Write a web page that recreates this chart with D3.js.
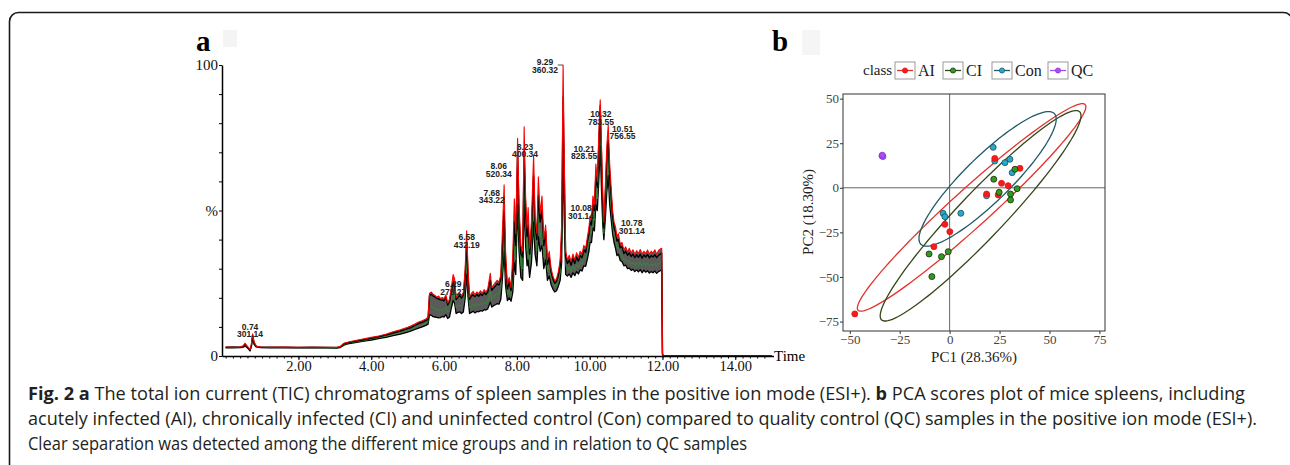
<!DOCTYPE html>
<html>
<head>
<meta charset="utf-8">
<script src="https://cdn.jsdelivr.net/npm/d3@7"></script>
<style>
  body { margin: 0; background: #fff; }
</style>
</head>
<body>
<script>
// ---- panel a : TIC chromatograms (retention time in min, intensity in %) ----
var rtMin = [
  0.00,0.20,0.40,0.48,0.53,0.58,0.63,0.67,0.71,0.74,0.78,0.84,0.95,1.20,1.60,2.00,2.40,2.80,3.05,3.15,3.25,3.40,3.60,3.80,4.00,4.20,4.40,4.60,4.80,5.00,5.10,5.20,5.30,5.40,5.50,5.56,
  5.60,5.65,5.70,5.75,5.80,5.85,5.90,5.95,6.00,6.05,6.10,6.15,6.20,6.25,6.29,6.33,6.38,6.43,6.48,6.53,6.58,6.62,6.66,6.70,6.75,6.80,6.85,6.90,6.95,7.00,7.05,7.10,7.15,7.20,7.27,7.31,7.36,7.41,7.46,7.51,7.56,
  7.60,7.65,7.69,7.74,7.79,7.84,7.89,7.93,7.97,8.02,8.06,8.11,8.16,8.20,8.24,8.28,8.31,8.35,8.40,8.46,8.50,8.55,8.59,8.64,8.69,8.74,8.79,8.84,8.89,8.94,8.99,9.04,9.09,9.14,9.19,9.23,9.27,9.30,9.34,
  9.39,9.44,9.49,9.54,9.59,9.64,9.69,9.74,9.79,9.84,9.89,9.94,9.98,10.01,
  10.05,10.09,10.13,10.17,10.21,10.25,10.29,10.33,10.36,10.39,10.43,10.47,10.51,10.55,10.59,10.63,10.67,10.71,10.75,10.79,
  10.84,10.89,10.94,10.99,11.04,11.09,11.14,11.19,11.24,11.29,11.34,11.39,11.44,11.49,11.54,11.59,11.64,11.69,11.74,11.79,11.84,11.89,11.94,11.98,12.00,12.02,15.00
];
var ticRed = [
  3.1,3.0,3.1,3.5,4.4,3.6,2.9,2.2,4.2,7.6,4.8,3.4,3.1,3.0,3.1,3.0,3.0,3.0,2.9,3.3,4.4,4.9,5.4,5.9,6.4,6.9,7.5,8.3,9.0,9.9,10.4,11.0,11.7,12.1,12.7,13.3,
  21.5,22.0,21.2,20.8,20.2,20.6,19.8,20.1,19.7,21.0,18.2,19.5,23.5,28.0,26.5,20.0,21.0,21.7,20.6,21.8,30.0,43.0,30.0,20.2,21.5,22.2,21.0,22.0,21.4,22.4,21.5,22.8,22.0,23.0,28.4,23.5,24.4,25.2,26.0,25.4,28.0,
  42.0,58.8,36.0,24.5,27.0,23.5,35.0,54.0,42.0,74.8,52.0,38.0,36.0,78.8,55.0,44.0,51.0,37.0,46.0,69.0,48.0,42.0,61.6,49.0,55.0,40.0,45.0,33.0,36.0,30.0,27.5,25.8,26.5,29.0,33.0,45.0,100.0,70.0,36.0,
  33.0,34.6,32.4,35.0,33.0,35.5,33.8,36.0,35.0,38.0,37.0,41.0,44.0,48.0,
  47.0,55.0,52.0,66.0,60.0,76.0,88.0,70.0,56.0,46.0,58.0,72.0,79.4,66.0,58.0,50.0,46.0,44.4,41.0,42.0,
  38.5,39.0,36.4,37.5,35.8,37.0,35.4,36.5,35.0,36.2,35.2,36.6,35.0,36.0,35.2,36.4,35.0,36.0,35.3,36.5,35.0,36.2,36.8,37.0,1.0,0,0
];
var ticBlack = [
  3.0,3.1,3.0,3.3,4.0,3.4,2.6,1.9,3.9,7.2,4.6,3.3,3.0,3.0,3.0,2.9,3.0,2.9,2.9,3.1,4.2,4.7,5.2,5.6,6.1,6.6,7.2,7.9,8.6,9.4,9.8,10.5,11.1,11.6,12.2,12.6,
  20.8,21.2,20.6,20.3,19.8,19.6,19.3,19.2,19.0,20.2,17.6,18.6,22.4,25.4,24.6,19.4,20.2,20.8,19.9,20.8,27.5,39.0,27.0,19.5,20.6,21.0,20.4,21.2,20.5,21.3,20.8,21.8,21.1,22.0,26.0,22.6,23.4,24.0,24.8,24.4,26.5,
  36.0,50.0,32.0,23.0,25.5,22.5,30.0,46.0,38.0,70.0,48.0,35.0,34.0,70.0,50.0,41.0,45.0,35.0,42.0,62.0,45.0,40.0,55.0,46.0,50.0,38.0,43.0,31.5,34.0,28.8,26.5,25.0,25.6,27.8,31.0,40.0,89.0,64.0,34.0,
  31.8,33.0,31.2,33.6,31.8,34.0,32.6,34.5,33.8,36.5,35.6,39.5,42.0,46.0,
  45.0,52.0,50.0,62.0,58.0,72.0,86.0,66.0,52.0,44.0,55.0,68.0,74.0,62.0,55.0,48.0,44.0,42.5,39.5,40.0,
  37.2,37.6,35.2,36.0,34.6,35.4,34.2,35.0,33.8,34.8,33.9,35.0,33.6,34.7,34.0,34.9,33.7,34.5,34.0,34.8,33.8,34.6,35.0,35.4,0.8,0,0
];
var ticGreen = [
  2.9,2.9,3.0,3.1,3.6,3.2,2.5,2.0,3.6,6.6,4.3,3.2,3.0,2.9,2.9,2.9,2.9,2.8,2.8,3.0,3.9,4.5,4.9,5.3,5.8,6.3,6.8,7.4,8.0,8.8,9.1,9.8,10.3,10.7,11.2,11.6,
  17.0,17.3,16.6,16.2,16.0,15.7,15.6,15.9,15.8,16.8,15.0,15.6,19.5,22.0,21.0,16.5,17.2,17.6,16.9,17.8,24.0,33.0,23.0,16.5,17.3,17.8,17.0,17.9,17.4,18.0,17.7,18.4,18.0,18.9,22.0,19.6,20.3,20.8,21.4,21.0,23.0,
  30.0,42.0,28.0,21.0,22.8,20.5,26.0,38.0,33.0,60.0,42.0,31.0,30.0,62.0,44.0,36.0,39.0,31.0,37.0,54.0,40.0,36.0,48.0,41.0,44.0,34.0,38.0,29.0,31.0,27.0,25.0,23.6,24.0,26.0,28.5,36.0,80.0,56.0,31.0,
  29.5,30.6,29.0,31.0,29.6,31.4,30.4,32.0,31.5,33.8,33.2,36.5,39.0,42.5,
  42.0,48.0,46.5,57.0,54.0,66.0,80.0,60.0,48.0,42.0,51.0,62.0,68.0,57.0,51.0,45.0,41.5,40.0,37.0,37.5,
  35.0,34.8,33.0,33.4,32.2,32.6,31.6,32.2,31.2,32.0,31.3,32.3,31.0,32.0,31.2,32.0,31.0,31.6,31.2,31.8,31.0,31.7,32.0,32.4,0.6,0,0
];
var ticDark = [
  2.8,2.8,2.9,3.0,3.4,3.0,2.4,1.8,3.4,6.2,4.0,3.1,2.9,2.8,2.8,2.8,2.8,2.8,2.7,2.9,3.7,4.3,4.7,5.1,5.5,6.0,6.4,7.0,7.5,8.2,8.6,9.1,9.6,10.0,10.5,10.9,
  14.2,14.0,13.5,13.4,13.3,13.1,13.2,13.6,13.4,14.2,12.9,13.4,16.5,19.0,18.2,14.6,15.0,15.2,14.6,15.1,20.0,28.0,20.0,14.6,15.0,15.4,14.8,15.3,15.2,15.6,15.4,15.9,15.8,16.2,18.5,16.8,17.3,17.6,18.0,17.8,19.5,
  26.0,36.0,24.0,19.0,20.0,18.8,22.0,32.0,28.0,52.0,36.0,27.0,26.0,54.0,38.0,31.0,33.0,27.0,32.0,46.0,35.0,31.0,41.0,36.0,38.0,30.0,33.0,26.0,27.5,24.5,23.0,22.0,22.4,24.0,26.0,32.0,70.0,48.0,28.0,
  27.5,28.2,27.0,28.6,27.6,29.0,28.2,29.6,29.2,31.0,30.8,33.5,36.0,39.0,
  39.0,44.0,43.0,52.0,50.0,60.0,72.0,55.0,45.0,40.0,47.0,56.0,62.0,52.0,47.0,42.0,39.0,37.0,34.5,35.0,
  32.8,32.4,31.0,31.2,30.0,30.2,29.4,29.8,29.0,29.6,28.9,29.7,28.6,29.5,28.8,29.3,28.5,29.0,28.6,29.2,28.4,29.0,29.3,29.6,0.5,0,0
];
// annotated peaks: retention time, m/z, apex height (%)
var peakRt  = ["0.74","6.29","6.58","7.68","8.06","8.23","9.29","10.08","10.21","10.32","10.51","10.78"];
var peakMz  = ["301.14","273.27","432.19","343.22","520.34","400.34","360.32","301.14","828.55","783.55","756.55","301.14"];
var peakPct = [7.6, 28, 43, 58.8, 74.8, 78.8, 100, 48, 66, 88, 79.4, 44.4];
var timeTicks = ["2.00","4.00","6.00","8.00","10.00","12.00","14.00"];

// ---- panel b : PCA scores ----
var classes = ["AI","CI","Con","QC"];
var aiPC1  = [22.6, 26.0, 29.3, 35.2, 18.5, 24.3, -2.4, 0.1, -7.9, -47.5];
var aiPC2  = [16.5, 2.5, 1.2, 10.9, -3.5, -4.0, -20.5, -24.6, -33.0, -70.7];
var ciPC1  = [22.1, 32.7, 33.8, 24.8, 30.5, 30.5, -10.3, -4.1, -0.7, -8.9];
var ciPC2  = [4.8, 10.4, -0.5, -2.5, -3.5, -6.8, -37.1, -38.6, -35.8, -49.8];
var conPC1 = [21.8, 22.6, 27.7, 30.2, 31.3, 18.5, -3.3, -2.4, 5.6];
var conPC2 = [22.7, 15.0, 14.1, 16.0, 8.5, -4.5, -14.3, -16.2, -14.3];
var qcPC1  = [-33.9, -33.4, -33.7];
var qcPC2  = [17.9, 17.5, 18.3];
// 95% ellipses: centre, semi axes, tilt (deg) in PC units
var ellClass = ["AI","CI","Con"];
var ellCx = [11.0, 15.5, 19.0];
var ellCy = [-11.0, -15.7, 5.0];
var ellA  = [81.0, 76.6, 49.6];
var ellB  = [10.0, 12.0, 12.0];
var ellTilt = [45.5, 49.8, 48.0];
var pcTicks = [-75, -50, -25, 0, 25, 50, 75];

var classFill   = {AI:"#f51c1c", CI:"#2f9b22", Con:"#26a9cc", QC:"#a94cf2"};
var classStroke = {AI:"#e01010", CI:"#1c2a0c", Con:"#1d4f5c", QC:"#8a35d0"};
var ellColor    = {AI:"#e0332b", CI:"#34461a", Con:"#1f5a68"};

var serif = "'Liberation Serif','Times New Roman',serif";

var svg = d3.select("body").append("svg").attr("width", 1290).attr("height", 465);

// figure frame
svg.append("rect").attr("x", 9.5).attr("y", 12.5).attr("width", 1283).attr("height", 480)
  .attr("rx", 9).attr("fill", "none").attr("stroke", "#1a1a1a").attr("stroke-width", 1.6);

// ================= panel a =================
var x = d3.scaleLinear().domain([-0.1, 15.05]).range([222, 773.5]);
var y = d3.scaleLinear().domain([0, 100]).range([356, 65]);

svg.append("rect").attr("x", 223).attr("y", 30).attr("width", 14).attr("height", 17).attr("fill", "#f4f4f4");
svg.append("text").text("a").attr("x", 196).attr("y", 51)
  .style("font-family", serif).style("font-weight", "bold").style("font-size", "29px");

var n = d3.min([rtMin.length, ticRed.length, ticBlack.length, ticGreen.length, ticDark.length]);
var idx = d3.range(n);

// the overlaid samples form a dark band between lowest and highest trace
var band = d3.area().x(function(i){ return x(rtMin[i]); })
  .y0(function(i){ return y(ticDark[i]); }).y1(function(i){ return y(ticRed[i]); });
svg.append("path").attr("d", band(idx)).attr("fill", "#1c1c1c").attr("fill-opacity", 0.72);

var traces = [
  {vals: ticDark,  color: "#000000", w: 1.3},
  {vals: ticGreen, color: "#23a023", w: 0.7},
  {vals: ticBlack, color: "#000000", w: 1.4},
  {vals: ticRed,   color: "#ff0000", w: 1.1}
];
traces.forEach(function(tr){
  var line = d3.line().x(function(i){ return x(rtMin[i]); }).y(function(i){ return y(tr.vals[i]); });
  svg.append("path").attr("d", line(idx)).attr("fill", "none")
    .attr("stroke", tr.color).attr("stroke-width", tr.w).attr("stroke-linejoin", "round");
});

// axes
var yAxis = d3.axisLeft(y).tickValues([0,10,20,30,40,50,60,70,80,90,100]).tickSize(3).tickPadding(1)
  .tickFormat(function(d){ return d == 100 ? "100" : d == 50 ? "%" : d == 0 ? "0" : ""; }).tickSizeOuter(0);
var ga = svg.append("g").attr("transform", "translate(222,0)").call(yAxis);
ga.select(".domain").attr("stroke-width", 1.5);
ga.selectAll("text").style("font-family", serif).style("font-size", "15px").attr("fill", "#111");

var minor = d3.range(0, 75).map(function(i){ return i * 0.2; });
var gm = svg.append("g").attr("transform", "translate(0,356)")
  .call(d3.axisBottom(x).tickValues(minor).tickSize(2.5).tickFormat("").tickSizeOuter(0));
gm.select(".domain").attr("stroke-width", 1.5);
var gx = svg.append("g").attr("transform", "translate(0,356)")
  .call(d3.axisBottom(x).tickValues(timeTicks.map(Number)).tickSize(4).tickPadding(1)
    .tickFormat(function(d, i){ return timeTicks[i]; }));
gx.select(".domain").remove();
gx.selectAll("text").style("font-family", serif).style("font-size", "14.5px").attr("fill", "#111");
svg.append("text").text("Time").attr("x", 774).attr("y", 361)
  .style("font-family", serif).style("font-size", "15px");

// peak annotations (offsets from the apex, px)
var labelNudge = [[-2.5,-7.2],[-1.3,9.5],[1.6,6.4],[-13.5,7.8],[-20.3,27.7],[-0.2,20],
                  [-18.8,-2.7],[-11.5,-8],[-13.2,-15.2],[-0.4,14.1],[14.3,3.8],[13.7,-3.5]];
peakRt.forEach(function(rt, i){
  var px = x(+rt) + labelNudge[i][0], py = y(peakPct[i]) + labelNudge[i][1];
  var t = svg.append("text").attr("text-anchor", "middle")
    .style("font-family", "'Liberation Sans',Arial,sans-serif").style("font-weight", "bold")
    .style("font-size", "8.5px").attr("fill", "#222");
  t.append("tspan").attr("x", px).attr("y", py + 3).text(rt);
  t.append("tspan").attr("x", px).attr("y", py + 10.5).text(peakMz[i]);
});
// leader to the base peak
svg.append("line").attr("x1", x(9.29) - 6).attr("x2", x(9.29) - 1).attr("y1", y(100)).attr("y2", y(100))
  .attr("stroke", "#222").attr("stroke-width", 0.8);

// ================= panel b =================
var xb = d3.scaleLinear().domain([-53.4, 77.8]).range([843, 1105]);
var yb = d3.scaleLinear().domain([-80.3, 52.6]).range([331, 94]);

svg.append("rect").attr("x", 802).attr("y", 30).attr("width", 18).attr("height", 25).attr("fill", "#f5f5f5");
svg.append("text").text("b").attr("x", 772).attr("y", 51)
  .style("font-family", serif).style("font-weight", "bold").style("font-size", "29px");

// legend
svg.append("text").text("class").attr("x", 863).attr("y", 75)
  .style("font-family", serif).style("font-size", "15px").attr("fill", "#222");
var legX = [895, 943, 992, 1048];
classes.forEach(function(c, i){
  var g = svg.append("g").attr("transform", "translate(" + legX[i] + ",62)");
  g.append("rect").attr("width", 20).attr("height", 17).attr("fill", "#fff").attr("stroke", "#999").attr("stroke-width", 1);
  g.append("line").attr("x1", 2).attr("x2", 18).attr("y1", 8.5).attr("y2", 8.5)
    .attr("stroke", c == "QC" ? classFill[c] : (ellColor[c] || classFill[c])).attr("stroke-width", 1.3);
  g.append("circle").attr("cx", 10).attr("cy", 8.5).attr("r", 2.6)
    .attr("fill", classFill[c]).attr("stroke", classStroke[c]).attr("stroke-width", 0.7);
  g.append("text").text(c).attr("x", 23).attr("y", 14)
    .style("font-family", serif).style("font-size", "16px").attr("fill", "#222");
});

// plot frame & zero lines
svg.append("line").attr("x1", xb(0)).attr("x2", xb(0)).attr("y1", 94).attr("y2", 331).attr("stroke", "#666").attr("stroke-width", 1);
svg.append("line").attr("x1", 843).attr("x2", 1105).attr("y1", yb(0)).attr("y2", yb(0)).attr("stroke", "#666").attr("stroke-width", 1);

// ellipses
var ellLine = d3.line().x(function(d){ return xb(d[0]); }).y(function(d){ return yb(d[1]); }).curve(d3.curveLinearClosed);
ellClass.forEach(function(c, k){
  var th = ellTilt[k] * Math.PI / 180, pts = [];
  for (var s = 0; s < 360; s += 3) {
    var r = s * Math.PI / 180;
    var u = ellA[k] * Math.cos(r), v = ellB[k] * Math.sin(r);
    pts.push([ellCx[k] + u * Math.cos(th) - v * Math.sin(th), ellCy[k] + u * Math.sin(th) + v * Math.cos(th)]);
  }
  svg.append("path").attr("d", ellLine(pts)).attr("fill", "none")
    .attr("stroke", ellColor[c]).attr("stroke-width", 1.3);
});

// points
function drawPoints(c, px, py){
  px.forEach(function(v, i){
    svg.append("circle").attr("cx", xb(v)).attr("cy", yb(py[i])).attr("r", 3)
      .attr("fill", classFill[c]).attr("stroke", classStroke[c]).attr("stroke-width", 0.8);
  });
}
drawPoints("Con", conPC1, conPC2);
drawPoints("AI", aiPC1, aiPC2);
drawPoints("CI", ciPC1, ciPC2);
drawPoints("QC", qcPC1, qcPC2);

svg.append("rect").attr("x", 843).attr("y", 94).attr("width", 262).attr("height", 237)
  .attr("fill", "none").attr("stroke", "#333").attr("stroke-width", 1);

var gyb = svg.append("g").attr("transform", "translate(843,0)")
  .call(d3.axisLeft(yb).tickValues(pcTicks.slice(0, 6)).tickSize(3).tickPadding(1).tickSizeOuter(0));
var gxb = svg.append("g").attr("transform", "translate(0,331)")
  .call(d3.axisBottom(xb).tickValues(pcTicks.slice(1)).tickSize(3).tickPadding(1).tickSizeOuter(0));
[gyb, gxb].forEach(function(g){
  g.select(".domain").remove();
  g.selectAll("line").attr("stroke", "#333");
  g.selectAll("text").style("font-family", serif).style("font-size", "13px").attr("fill", "#444");
});
svg.append("text").text("PC1 (28.36%)").attr("x", 974).attr("y", 362).attr("text-anchor", "middle")
  .style("font-family", serif).style("font-size", "15px").attr("fill", "#222");
svg.append("text").text("PC2 (18.30%)").attr("transform", "translate(813,212) rotate(-90)").attr("text-anchor", "middle")
  .style("font-family", serif).style("font-size", "15px").attr("fill", "#222");

// ================= caption =================
var cap = [
  [["Fig. 2 a", true], [" The total ion current (TIC) chromatograms of spleen samples in the positive ion mode (ESI+). ", false], ["b", true], [" PCA scores plot of mice spleens, including", false]],
  [["acutely infected (AI), chronically infected (CI) and uninfected control (Con) compared to quality control (QC) samples in the positive ion mode (ESI+).", false]],
  [["Clear separation was detected among the different mice groups and in relation to QC samples", false]]
];
var capWidth = [1217, 1229, 719];
cap.forEach(function(parts, i){
  var t = svg.append("text").attr("x", 28).attr("y", 400 + i * 25)
    .attr("textLength", capWidth[i]).attr("lengthAdjust", "spacingAndGlyphs")
    .style("font-family", "'Open Sans','Noto Sans',sans-serif").style("font-size", "18px").attr("fill", "#231f20");
  parts.forEach(function(p){
    t.append("tspan").text(p[0]).style("font-weight", p[1] ? "bold" : "normal");
  });
});
</script>
</body>
</html>
